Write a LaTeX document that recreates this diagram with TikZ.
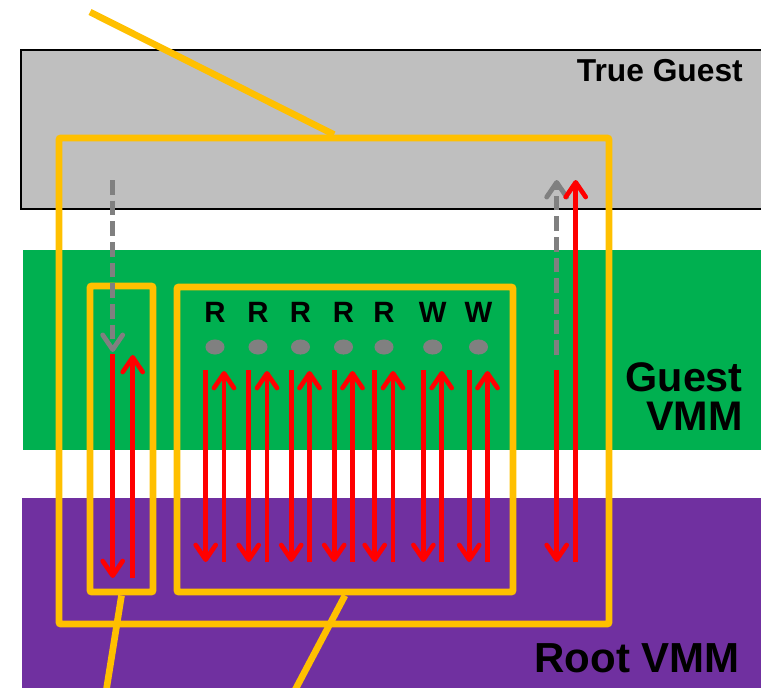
\documentclass[tikz,border=0pt]{standalone}
\usepackage{fontspec}
\setmainfont{Liberation Sans}
\usetikzlibrary{arrows.meta,fit,shapes.geometric}

\definecolor{guestgray}{HTML}{BFBFBF}
\definecolor{vmmgreen}{HTML}{00B050}
\definecolor{rootpurple}{HTML}{7030A0}
\definecolor{boxorange}{HTML}{FFC000}
\definecolor{exitgray}{HTML}{808080}

\tikzset{
  layer/.style={inner sep=0pt, outer sep=0pt},
  obox/.style={draw=boxorange, line width=5.2pt, rounded corners=1.5pt, inner sep=0pt},
  callout/.style={draw=boxorange, line width=5pt},
  exit/.style={draw=red, line width=3.5pt,
    -{Straight Barb[length=11pt,width=15pt,round]}},
  emul/.style={draw=exitgray, line width=3.6pt, dash pattern=on 11pt off 4.5pt,
    -{Straight Barb[length=11pt,width=15pt,round]}},
  opname/.style={font=\bfseries\fontsize{22}{26}\selectfont, anchor=base},
  layername/.style={anchor=base east, align=right, inner sep=0pt},
  pending/.style={ellipse, fill=exitgray, minimum width=14.3pt, minimum height=11.3pt, inner sep=0pt}
}

\begin{document}
\begin{tikzpicture}[x=0.75pt,y=-0.75pt]
  \useasboundingbox (0,0) rectangle (761,687);

  % layers
  \node[layer, fit={(21,50) (775,209)}, fill=guestgray, draw=black, line width=1.5pt] (trueguest) {};
  \node[layer, fit={(23,250) (761,450)}, fill=vmmgreen] (guestvmm) {};
  \node[layer, fit={(22,498) (761,690)}, fill=rootpurple] (rootvmm) {};

  \node[layername, font=\bfseries\fontsize{23.8}{28}\selectfont] (tglabel) at (743,81) {True Guest};
  \node[layername, font=\bfseries\fontsize{31}{29}\selectfont] (gvlabel) at (743,430) {Guest\\VMM};
  \node[layername, font=\bfseries\fontsize{31.5}{36}\selectfont] (rvlabel) at (740,672) {Root VMM};

  % orange boxes and callouts
  \node[obox, fit={(59,138) (609,624)}] (outerbox) {};
  \node[obox, fit={(90,286) (153,592)}] (singlebox) {};
  \node[obox, fit={(177,287) (513,592)}] (batchbox) {};

  \coordinate (topend) at (90,12);
  \coordinate (singleend) at (106,692);
  \coordinate (batchend) at (294,692);
  \draw[callout] (outerbox.north) -- (topend);
  \draw[callout] (singlebox.south) -- (singleend);
  \draw[callout] (batchbox.south) -- (batchend);

  % single exit
  \coordinate (sgtop) at (112.7,180);
  \coordinate (sgbot) at (112.7,352);
  \coordinate (sdtop) at (112.7,354);
  \coordinate (sdbot) at (112.7,578);
  \coordinate (sutop) at (132.7,355);
  \coordinate (subot) at (132.7,578);
  \draw[emul] (sgtop) -- (sgbot);
  \draw[exit] (sdtop) -- (sdbot);
  \draw[exit] (subot) -- (sutop);

  % batched operations
  \foreach \op/\xx [count=\i] in {R/215,R/258,R/300.5,R/343.5,R/384,W/432.7,W/478.5} {
    \node[opname] (op\i) at (\xx,322) {\op};
    \node[pending] (dot\i) at (\xx,347) {};
    \coordinate (dntop\i) at (\xx-9.3,370);
    \coordinate (dnbot\i) at (\xx-9.3,562);
    \coordinate (uptop\i) at (\xx+9,371);
    \coordinate (upbot\i) at (\xx+9,562);
    \draw[exit] (dntop\i) -- (dnbot\i);
    \draw[exit] (upbot\i) -- (uptop\i);
  }

  % final exit
  \coordinate (fgbot) at (556.7,355);
  \coordinate (fgtop) at (556.7,180);
  \coordinate (fdtop) at (556.7,370);
  \coordinate (fdbot) at (556.7,562);
  \coordinate (futop) at (575.7,180);
  \coordinate (fubot) at (575.7,562);
  \draw[emul] (fgbot) -- (fgtop);
  \draw[exit] (fdtop) -- (fdbot);
  \draw[exit] (fubot) -- (futop);
\end{tikzpicture}
\end{document}
